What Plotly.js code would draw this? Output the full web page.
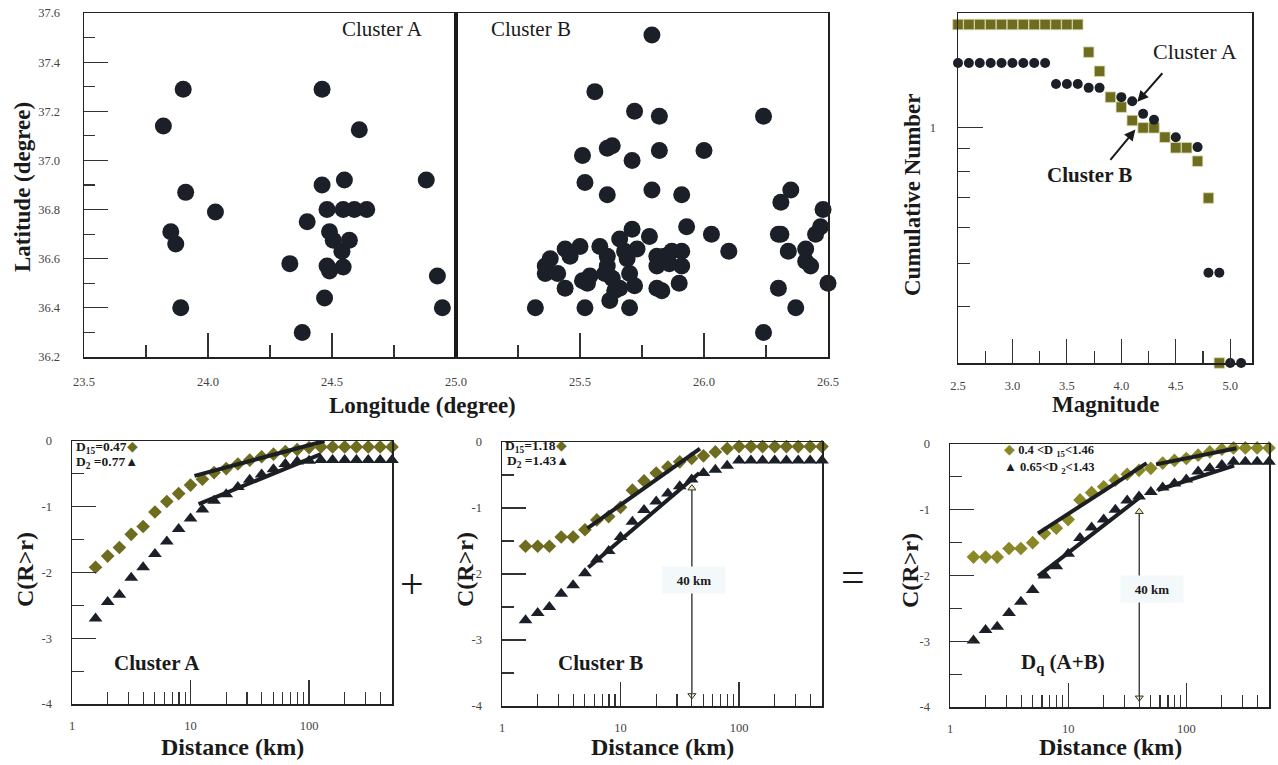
<!DOCTYPE html>
<html>
<head>
<meta charset="utf-8">
<script src="https://cdn.plot.ly/plotly-3.0.1.min.js"></script>
<style>html,body{margin:0;padding:0;background:#fff;}#chart{width:1278px;height:765px;}</style>
</head>
<body>
<div id="chart"></div>
<script>
// ---------------- DATA ----------------
// Epicentres (top-left map)
const lonA = [23.90,23.82,23.91,24.03,23.85,23.87,23.89,24.46,24.61,24.88,24.55,24.46,24.48,24.545,24.59,24.64,24.40,24.49,24.505,24.57,24.54,24.33,24.48,24.49,24.545,24.47,24.38,24.925,24.945];
const latA = [37.29,37.14,36.87,36.79,36.71,36.66,36.40,37.29,37.125,36.92,36.92,36.90,36.80,36.80,36.80,36.80,36.75,36.71,36.675,36.675,36.63,36.58,36.57,36.55,36.566,36.44,36.30,36.53,36.40];
const lonB = [25.79,25.56,25.72,25.82,26.24,25.61,25.63,25.82,26.00,25.51,25.71,25.52,25.61,25.79,25.91,26.35,26.31,26.48,26.47,26.45,26.30,26.31,26.34,26.41,26.41,26.43,26.50,26.30,26.37,26.24,26.03,26.10,25.93,25.32,25.52,25.70,25.62,25.90,25.81,25.83,25.44,25.38,25.36,25.36,25.41,25.44,25.50,25.46,25.51,25.54,25.53,25.58,25.61,25.61,25.60,25.63,25.66,25.64,25.70,25.72,25.66,25.71,25.68,25.73,25.78,25.69,25.81,25.81,25.86,25.87,25.91,25.91,25.84];
const latB = [37.51,37.28,37.20,37.18,37.18,37.05,37.06,37.04,37.04,37.02,37.00,36.91,36.86,36.88,36.86,36.88,36.83,36.80,36.73,36.70,36.70,36.70,36.63,36.64,36.59,36.57,36.50,36.48,36.40,36.30,36.70,36.63,36.73,36.40,36.40,36.40,36.43,36.50,36.48,36.47,36.48,36.60,36.57,36.54,36.54,36.64,36.65,36.61,36.51,36.53,36.50,36.65,36.61,36.57,36.54,36.52,36.48,36.47,36.54,36.49,36.68,36.72,36.63,36.64,36.69,36.60,36.61,36.57,36.58,36.63,36.63,36.57,36.61];
const clusterBoundaryLon = 25.0;

// Cumulative number vs magnitude (top-right)
const magA = [2.5,2.6,2.7,2.8,2.9,3.0,3.1,3.2,3.3,3.4,3.5,3.6,3.7,3.8,4.0,4.1,4.2,4.3,4.5,4.7,4.8,4.9,5.0,5.1];
const cumA = [1.394,1.394,1.394,1.394,1.394,1.394,1.394,1.394,1.394,1.252,1.252,1.252,1.227,1.227,1.170,1.146,1.074,1.042,0.953,0.906,0.476,0.476,0.30,0.30];
const magB = [2.5,2.6,2.7,2.8,2.9,3.0,3.1,3.2,3.3,3.4,3.5,3.6,3.7,3.8,3.9,4.0,4.1,4.2,4.3,4.4,4.5,4.6,4.7,4.8,4.9];
const cumB = [1.697,1.697,1.697,1.697,1.697,1.697,1.697,1.697,1.697,1.697,1.697,1.697,1.473,1.336,1.170,1.112,1.038,1.0,1.0,0.953,0.903,0.903,0.843,0.698,0.30];

// Correlation integrals (bottom)
const dist = [1.58,2.0,2.51,3.16,3.98,5.01,6.31,7.94,10,12.6,15.8,20,25.1,31.6,39.8,50.1,63.1,79.4,100,126,158,200,251,316,398,501];
const A_D15 = [-1.92,-1.75,-1.62,-1.42,-1.30,-1.08,-0.92,-0.80,-0.67,-0.58,-0.48,-0.42,-0.35,-0.29,-0.24,-0.20,-0.16,-0.13,-0.10,-0.09,-0.09,-0.09,-0.09,-0.09,-0.09,-0.09];
const A_D2  = [-2.70,-2.45,-2.34,-2.08,-1.92,-1.72,-1.53,-1.34,-1.18,-1.04,-0.91,-0.81,-0.70,-0.59,-0.51,-0.43,-0.35,-0.31,-0.30,-0.29,-0.29,-0.29,-0.29,-0.29,-0.29,-0.29];
const B_D15 = [-1.58,-1.58,-1.58,-1.44,-1.44,-1.33,-1.18,-1.13,-0.99,-0.73,-0.59,-0.47,-0.38,-0.30,-0.25,-0.21,-0.15,-0.10,-0.07,-0.07,-0.07,-0.07,-0.07,-0.07,-0.07,-0.07];
const B_D2  = [-2.70,-2.59,-2.50,-2.30,-2.17,-1.99,-1.78,-1.65,-1.44,-1.21,-1.03,-0.90,-0.78,-0.67,-0.57,-0.47,-0.42,-0.36,-0.28,-0.28,-0.28,-0.28,-0.28,-0.28,-0.28,-0.28];
const C_D15 = [-1.72,-1.72,-1.72,-1.59,-1.59,-1.50,-1.36,-1.28,-1.15,-0.85,-0.74,-0.65,-0.55,-0.46,-0.40,-0.37,-0.29,-0.25,-0.22,-0.17,-0.12,-0.08,-0.06,-0.06,-0.06,-0.06];
const C_D2  = [-2.99,-2.83,-2.78,-2.57,-2.40,-2.22,-2.00,-1.86,-1.67,-1.43,-1.27,-1.15,-1.00,-0.86,-0.80,-0.73,-0.66,-0.60,-0.54,-0.42,-0.37,-0.32,-0.27,-0.27,-0.27,-0.27];

// Fitted lines (end points)
const fitA15x = [10.8,135],  fitA15y = [-0.53,0.0];
const fitA2x  = [11.7,126],  fitA2y  = [-0.96,-0.20];
const fitB15x = [5.25,46.8], fitB15y = [-1.31,-0.10];
const fitB2x  = [5.35,46.2], fitB2y  = [-1.90,-0.47];
const fitC15ax = [5.56,46.2], fitC15ay = [-1.36,-0.29];
const fitC15bx = [55.5,266],  fitC15by = [-0.31,-0.065];
const fitC2ax  = [5.56,42.7], fitC2ay  = [-2.01,-0.78];
const fitC2bx  = [57.3,254],  fitC2by  = [-0.70,-0.33];

// 40 km markers
const scaleKm = 40;
const arrowB = [-0.70,-3.84];
const arrowC = [-1.03,-3.86];

// Tick labels
const lonTicks = [23.5,24.0,24.5,25.0,25.5,26.0,26.5];
const latTicks = [36.2,36.4,36.6,36.8,37.0,37.2,37.4,37.6];
const magTicks = [2.5,3.0,3.5,4.0,4.5,5.0];
const distTicks = [1,10,100];
const distMinor = [2,3,4,5,6,7,8,9,20,30,40,50,60,70,80,90,200,300,400];
const cTicks = [0,-1,-2,-3,-4];
const cMinor = [-0.5,-1.5,-2.5,-3.5];

// ---------------- STYLE ----------------
const W = 1278, H = 765;
const px = v => v / W, py = v => 1 - v / H;
const SERIF = 'Liberation Serif';
const DARK = '#1b2028';
const OLIVE = '#6e6c1e';
const OLIVE3 = '#8a8826';
const tickFont = {family: SERIF, size: 12.5, color: '#444'};
const minorStyle = {ticks: 'inside', tickcolor: '#333', tickwidth: 1.2};

function baseAxis(extra) {
  return Object.assign({
    showline: true, mirror: true, linecolor: '#222', linewidth: 1.5,
    ticks: 'inside', tickcolor: '#333', tickwidth: 1.2,
    showgrid: false, zeroline: false, tickfont: tickFont,
    fixedrange: true
  }, extra);
}
function distAxis(d0, d1, anchor) {
  return baseAxis({
    domain: [px(d0), px(d1)], anchor: anchor, type: 'log', range: [0, 2.7],
    tickmode: 'array', tickvals: distTicks, ticktext: distTicks.map(String), ticklen: 24,
    minor: Object.assign({tickmode: 'array', tickvals: distMinor, ticklen: 12}, minorStyle),
    ticklabelstandoff: 9
  });
}
function cAxis(t, b, anchor) {
  return baseAxis({
    domain: [py(b), py(t)], anchor: anchor, range: [-4, 0],
    tickmode: 'array', tickvals: cTicks, ticktext: cTicks.map(v => String(v)), ticklen: 24,
    minor: Object.assign({tickmode: 'array', tickvals: cMinor, ticklen: 12}, minorStyle),
    ticklabelstandoff: 16
  });
}

const traces = [];
// map
traces.push({x: lonA, y: latA, xaxis: 'x', yaxis: 'y', type: 'scatter', mode: 'markers', cliponaxis: false,
  marker: {size: 17, color: DARK}});
traces.push({x: lonB, y: latB, xaxis: 'x', yaxis: 'y', type: 'scatter', mode: 'markers', cliponaxis: false,
  marker: {size: 17, color: DARK}});
// magnitude
traces.push({x: magB, y: cumB, xaxis: 'x2', yaxis: 'y2', type: 'scatter', mode: 'markers', cliponaxis: false,
  marker: {symbol: 'square', size: 10.5, color: OLIVE, line: {color: '#d8d8b0', width: 0.8}}});
traces.push({x: magA, y: cumA, xaxis: 'x2', yaxis: 'y2', type: 'scatter', mode: 'markers', cliponaxis: false,
  marker: {symbol: 'circle', size: 10, color: DARK}});

function corrTraces(xa, ya, d15, d2, olive, fits) {
  traces.push({x: dist, y: d15, xaxis: xa, yaxis: ya, type: 'scatter', mode: 'markers', cliponaxis: false,
    marker: {symbol: 'diamond', size: 10.5, color: olive}});
  traces.push({x: dist, y: d2, xaxis: xa, yaxis: ya, type: 'scatter', mode: 'markers', cliponaxis: false,
    marker: {symbol: 'triangle-up', size: 12, color: DARK}});
  fits.forEach(f => traces.push({x: f[0], y: f[1], xaxis: xa, yaxis: ya, type: 'scatter', mode: 'lines',
    cliponaxis: false, line: {color: '#1b1f24', width: 4}}));
}
corrTraces('x3', 'y3', A_D15, A_D2, OLIVE, [[fitA15x, fitA15y], [fitA2x, fitA2y]]);
corrTraces('x4', 'y4', B_D15, B_D2, OLIVE, [[fitB15x, fitB15y], [fitB2x, fitB2y]]);
corrTraces('x5', 'y5', C_D15, C_D2, OLIVE3, [[fitC15ax, fitC15ay], [fitC15bx, fitC15by], [fitC2ax, fitC2ay], [fitC2bx, fitC2by]]);

function kmArrow(xa, ya, yy) {
  traces.push({x: [scaleKm, scaleKm], y: yy, xaxis: xa, yaxis: ya, type: 'scatter', mode: 'lines+markers', cliponaxis: false,
    line: {color: '#444', width: 1.5},
    marker: {symbol: ['triangle-up', 'triangle-down'], size: 7, color: '#f4e9a6', line: {color: '#333', width: 1}}});
}
kmArrow('x4', 'y4', arrowB);
kmArrow('x5', 'y5', arrowC);

// ---------------- LAYOUT ----------------
const layout = {
  width: W, height: H, margin: {l: 0, r: 0, t: 0, b: 0},
  paper_bgcolor: '#fff', plot_bgcolor: 'rgba(0,0,0,0)', showlegend: false,
  font: {family: SERIF, color: '#222'},
  xaxis: baseAxis({domain: [px(84), px(828)], anchor: 'y', range: [23.5, 26.5],
    tickmode: 'array', tickvals: lonTicks, ticktext: lonTicks.map(v => v.toFixed(1)), ticklen: 24,
    minor: Object.assign({dtick: 0.25, ticklen: 12}, minorStyle), ticklabelstandoff: 12}),
  yaxis: baseAxis({domain: [py(357), py(13)], anchor: 'x', range: [36.2, 37.6],
    tickmode: 'array', tickvals: latTicks, ticktext: latTicks.map(v => v.toFixed(1)), ticklen: 24,
    minor: Object.assign({dtick: 0.1, ticklen: 11}, minorStyle), ticklabelstandoff: 20}),
  xaxis2: baseAxis({domain: [px(958), px(1252)], anchor: 'y2', range: [2.5, 5.2],
    tickmode: 'array', tickvals: magTicks, ticktext: magTicks.map(v => v.toFixed(1)), ticklen: 24,
    minor: Object.assign({tickmode: 'array', tickvals: [2.75, 3.25, 3.75, 4.25, 4.75], ticklen: 12}, minorStyle),
    ticklabelstandoff: 10}),
  yaxis2: baseAxis({domain: [py(363), py(13)], anchor: 'x2', type: 'log', range: [Math.log10(0.3), Math.log10(1.8)],
    tickmode: 'array', tickvals: [1], ticktext: ['1'], ticklen: 25,
    minor: Object.assign({tickmode: 'array', tickvals: [0.4, 0.5, 0.6, 0.7, 0.8, 0.9], ticklen: 12}, minorStyle),
    ticklabelstandoff: 18}),
  xaxis3: distAxis(72, 392, 'y3'), yaxis3: cAxis(441, 704, 'x3'),
  xaxis4: distAxis(502, 822, 'y4'), yaxis4: cAxis(442, 706, 'x4'),
  xaxis5: distAxis(950, 1269, 'y5'), yaxis5: cAxis(444, 707, 'x5'),
  shapes: [
    {type: 'line', xref: 'x', yref: 'y domain', x0: clusterBoundaryLon, x1: clusterBoundaryLon, y0: 0, y1: 1,
     line: {color: '#1a1a1a', width: 4}}
  ],
  annotations: []
};

function txt(x, y, text, size, opts) {
  layout.annotations.push(Object.assign({xref: 'paper', yref: 'paper', x: px(x), y: py(y), text: text,
    showarrow: false, xanchor: 'center', yanchor: 'middle',
    font: {family: SERIF, size: size, color: '#1a1a1a'}}, opts || {}));
}
// axis titles
txt(422, 405, '<b>Longitude (degree)</b>', 23);
txt(22, 187, '<b>Latitude (degree)</b>', 23, {textangle: -90});
txt(1105, 404, '<b>Magnitude</b>', 23);
txt(912, 195, '<b>Cumulative Number</b>', 23, {textangle: -90});
[[232, 25], [662, 465], [1110, 910]].forEach(p => {
  txt(p[0], 747, '<b>Distance (km)</b>', 24);
  txt(p[1], 570, '<b>C(R&gt;r)</b>', 24, {textangle: -90});
});
// map labels
txt(425, 29, 'Cluster A', 21, {xanchor: 'right'});
txt(489, 29, 'Cluster B', 21, {xanchor: 'left'});
// magnitude labels
txt(1195, 52, 'Cluster A', 22);
txt(1089, 175, '<b>Cluster B</b>', 21);
layout.annotations.push({xref: 'x2', yref: 'y2', x: 4.147, y: 0.0578, ax: 28, ay: -32, text: ' ',
  showarrow: true, arrowhead: 2, arrowsize: 1.1, arrowwidth: 2, arrowcolor: '#1a1a1a', standoff: 0});
layout.annotations.push({xref: 'x2', yref: 'y2', x: 4.129, y: -0.004, ax: -28, ay: 34, text: ' ',
  showarrow: true, arrowhead: 2, arrowsize: 1.1, arrowwidth: 2, arrowcolor: '#1a1a1a', standoff: 0});
// panel legends
const dia = c => `<span style="color:${c};font-size:14px">◆</span>`;
const tri = `<span style="color:${DARK};font-size:13px">▲</span>`;
txt(74, 447, `<b>D<sub>15</sub>=0.47</b>${dia(OLIVE)}`, 13.5, {xanchor: 'left'});
txt(74, 462, `<b>D<sub>2</sub> =0.77</b>${tri}`, 13.5, {xanchor: 'left'});
txt(503, 446, `<b>D<sub>15</sub>=1.18</b>${dia(OLIVE)}`, 13.5, {xanchor: 'left'});
txt(505, 461, `<b>D<sub>2</sub> =1.43</b>${tri}`, 13.5, {xanchor: 'left'});
txt(1002, 450, `${dia(OLIVE3)} <b>0.4 &lt;D <sub>15</sub>&lt;1.46</b>`, 12.5, {xanchor: 'left'});
txt(1002, 467, `${tri} <b>0.65&lt;D <sub>2</sub>&lt;1.43</b>`, 12.5, {xanchor: 'left'});
// panel names
txt(157, 663, '<b>Cluster A</b>', 21);
txt(600, 663, '<b>Cluster B</b>', 21);
txt(1063, 663, '<b>D<sub>q</sub> (A+B)</b>', 21);
// 40 km labels
txt(694, 580, '<b>40 km</b>', 13, {bgcolor: '#f3f9fb', width: 60, height: 24});
txt(1152, 589, '<b>40 km</b>', 13, {bgcolor: '#f3f9fb', width: 60, height: 24});
// operators
txt(412, 584, '+', 42);
txt(853, 577, '=', 42);

Plotly.newPlot('chart', traces, layout, {staticPlot: true, displayModeBar: false});
</script>
</body>
</html>
